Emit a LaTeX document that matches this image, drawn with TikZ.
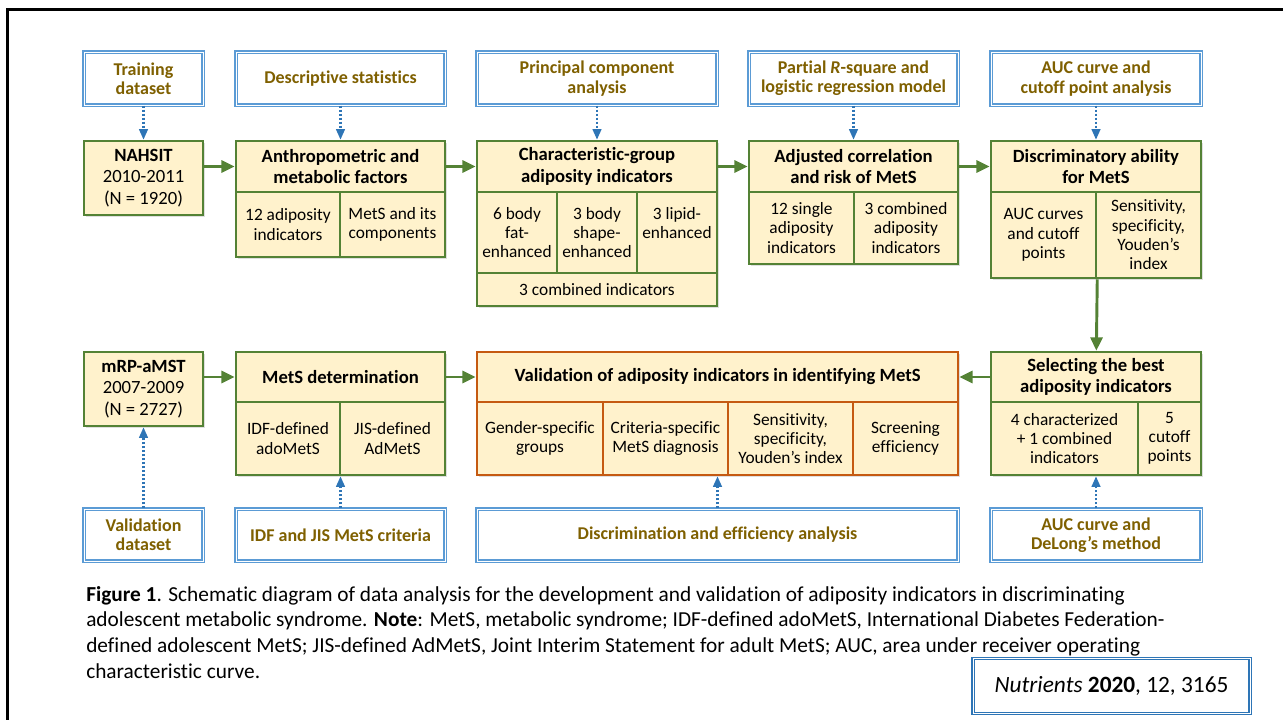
\documentclass[tikz,border=0pt]{standalone}
\usepackage{fontspec}
\setmainfont{Carlito}[Ligatures=NoCommon]
\usetikzlibrary{arrows.meta,shadows}
\definecolor{grnbd}{HTML}{548235}
\definecolor{fillbx}{HTML}{FFF2CC}
\definecolor{orgbd}{HTML}{C55A11}
\definecolor{blubd}{HTML}{5B9BD5}
\definecolor{bluar}{HTML}{2E75B6}
\definecolor{goldtx}{HTML}{7F6000}
\begin{document}
\begin{tikzpicture}[x=0.75pt,y=-0.75pt,
		sz/.style 2 args={minimum width=#1*0.75pt,minimum height=#2*0.75pt},
		cell/.style={draw=grnbd,line width=1.9pt,fill=fillbx,inner sep=1pt,align=center,
			font=\fontsize{13}{14.5}\selectfont,
			drop shadow={shadow xshift=1.5pt,shadow yshift=-1.5pt,opacity=0.25}},
		head/.style={cell,font=\fontsize{14}{16}\selectfont\bfseries},
		ocell/.style={cell,draw=orgbd},
		ohead/.style={head,draw=orgbd},
		dbl/.style={draw=blubd,double=white,double distance=0.7pt,line width=0.9pt,fill=white},
		tool/.style={dbl,inner sep=1pt,align=center,text=goldtx,font=\fontsize{13.5}{14.5}\selectfont\bfseries},
		flow/.style={draw=grnbd,line width=2.2pt,-{Triangle[length=10pt,width=9pt]}},
		hint/.style={draw=bluar,line width=1.7pt,dash pattern=on 1.6pt off 1.4pt,-{Triangle[length=8pt,width=6.5pt]}}]
		\useasboundingbox (0,0) rectangle (1283,720);
		\clip (0,0) rectangle (1283,720);
		\draw[line width=2.2pt] (7.5,730) -- (7.5,9.5) -- (1290,9.5);

		\node[tool,sz={119}{53}] (train) at (143.5,78.5) {Training\\dataset};
		\node[tool,sz={209}{53}] (desc) at (340.5,78.5) {Descriptive statistics};
		\node[tool,sz={240}{53}] (pca) at (597,78.5) {Principal component\\analysis};
		\node[tool,sz={209}{53}] (prsq) at (853.5,78.5) {Partial \textit{R}-square and\\logistic regression model};
		\node[tool,sz={210}{53}] (aucA) at (1096,78.5) {AUC curve and\\cutoff point analysis};

		\node[cell,sz={119}{74},font=\fontsize{14}{16}\selectfont] (nahsit) at (143.5,178) {\textbf{NAHSIT}\\2010-2011\\(N = 1920)};
		\node[head,sz={209}{51}] (anthroH) at (340.5,166.5) {Anthropometric and\\metabolic factors};
		\node[cell,sz={104}{65}] (anthroA) at (288,224.5) {12 adiposity\\indicators};
		\node[cell,sz={105}{65}] (anthroB) at (392.5,224.5) {MetS and its\\components};
		\node[head,sz={240}{51}] (charH) at (597,166.5) {Characteristic-group\\adiposity indicators};
		\node[cell,sz={80}{81}] (charA) at (517,232.5) {6 body\\fat-\\enhanced};
		\node[cell,sz={80}{81}] (charB) at (597,232.5) {3 body\\shape-\\enhanced};
		\node[cell,sz={80}{81}] (charC) at (677,232.5) {3 lipid-\\enhanced\\\phantom{x}};
		\node[cell,sz={240}{33}] (charD) at (597,289.5) {3 combined indicators};
		\node[head,sz={209}{51}] (adjH) at (853.5,166.5) {Adjusted correlation\\and risk of MetS};
		\node[cell,sz={105}{72}] (adjA) at (801.5,228) {12 single\\adiposity\\indicators};
		\node[cell,sz={104}{72}] (adjB) at (906,228) {3 combined\\adiposity\\indicators};
		\node[head,sz={210}{51}] (discH) at (1096,166.5) {Discriminatory ability\\for MetS};
		\node[cell,sz={105}{86}] (discA) at (1043.5,235) {AUC curves\\and cutoff\\points};
		\node[cell,sz={105}{86}] (discB) at (1148.5,235) {Sensitivity,\\specificity,\\Youden’s\\index};

		\node[cell,sz={119}{74},font=\fontsize{14}{16}\selectfont] (mrp) at (143.5,389) {\textbf{mRP-aMST}\\2007-2009\\(N = 2727)};
		\node[head,sz={209}{50}] (metsH) at (340.5,377) {MetS determination};
		\node[cell,sz={104}{73}] (metsA) at (288,438.5) {IDF-defined\\adoMetS};
		\node[cell,sz={105}{73}] (metsB) at (392.5,438.5) {JIS-defined\\AdMetS};
		\node[ohead,sz={481}{50}] (valH) at (717.5,377) {Validation of adiposity indicators in identifying MetS};
		\node[ocell,sz={126}{73}] (valA) at (540,438.5) {Gender-specific\\groups};
		\node[ocell,sz={125}{73}] (valB) at (665.5,438.5) {Criteria-specific\\MetS diagnosis};
		\node[ocell,sz={125}{73}] (valC) at (790.5,438.5) {Sensitivity,\\specificity,\\Youden’s index};
		\node[ocell,sz={105}{73}] (valD) at (905.5,438.5) {Screening\\efficiency};
		\node[head,sz={210}{50}] (selH) at (1096,377) {Selecting the best\\adiposity indicators};
		\node[cell,sz={147}{73}] (selA) at (1064.5,438.5) {4 characterized\\+ 1 combined\\indicators};
		\node[cell,sz={63}{73}] (selB) at (1169.5,438.5) {5\\cutoff\\points};

		\node[tool,sz={119}{52}] (valds) at (143.5,535) {Validation\\dataset};
		\node[tool,sz={209}{52}] (idf) at (340.5,535) {IDF and JIS MetS criteria};
		\node[tool,sz={481}{52}] (disceff) at (717.5,535) {Discrimination and efficiency analysis};
		\node[tool,sz={210}{52}] (aucB) at (1096,535) {AUC curve and\\DeLong’s method};

		\draw[hint] (train) -- (nahsit);
		\draw[hint] (desc) -- (anthroH);
		\draw[hint] (pca) -- (charH);
		\draw[hint] (prsq) -- (adjH);
		\draw[hint] (aucA) -- (discH);
		\draw[flow] (nahsit.east |- anthroH) -- (anthroH);
		\draw[flow] (anthroH) -- (charH);
		\draw[flow] (charH) -- (adjH);
		\draw[flow] (adjH) -- (discH);
		\draw[flow] (discA.south east) -- (selH);
		\draw[flow] (selH) -- (valH);
		\draw[flow] (mrp.east |- metsH) -- (metsH);
		\draw[flow] (metsH) -- (valH);
		\draw[hint] (valds) -- (mrp);
		\draw[hint] (idf) -- (idf |- metsA.south);
		\draw[hint] (disceff) -- (disceff |- valB.south);
		\draw[hint] (aucB) -- (aucB |- selA.south);

		\node[dbl,draw=bluar,sz={277}{55},font=\fontsize{17.5}{20}\selectfont] (cite) at (1111.5,686) {\textit{Nutrients} \textbf{2020}, 12, 3165};
		\node[anchor=north west,align=left,inner sep=0pt,font=\fontsize{16}{19.2}\selectfont] (caption) at (86,586) {\textbf{Figure 1}. Schematic diagram of data analysis for the development and validation of adiposity indicators in discriminating\\adolescent metabolic syndrome. \textbf{Note}: MetS, metabolic syndrome; IDF-defined adoMetS, International Diabetes Federation-\\defined adolescent MetS; JIS-defined AdMetS, Joint Interim Statement for adult MetS; AUC, area under receiver operating\\characteristic curve.};
	\end{tikzpicture}
\end{document}
